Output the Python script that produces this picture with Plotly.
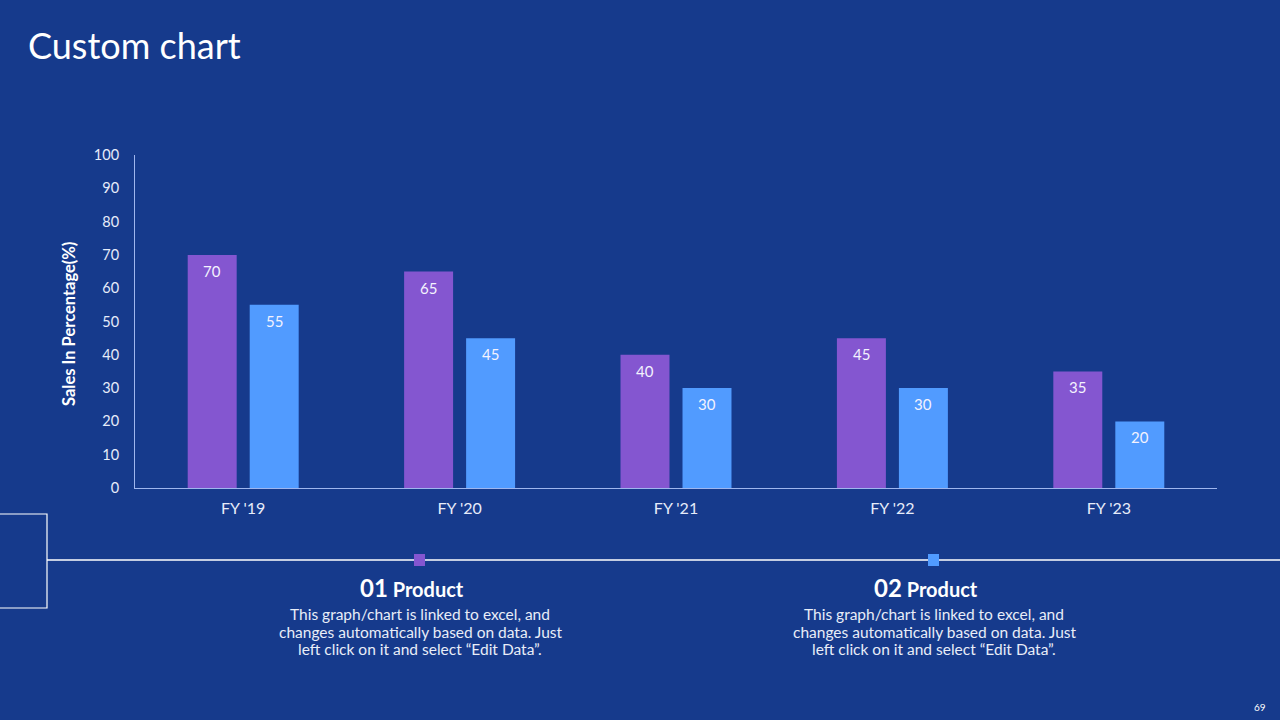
import plotly.graph_objects as go

categories = ["FY '19", "FY '20", "FY '21", "FY '22", "FY '23"]
product_01 = [70, 65, 40, 45, 35]
product_02 = [55, 45, 30, 30, 20]
y_ticks = [0, 10, 20, 30, 40, 50, 60, 70, 80, 90, 100]
desc_lines = [
    "This graph/chart is linked to excel, and",
    "changes automatically based on data. Just",
    "left click on it and select “Edit Data”.",
]

BG = "#163a8c"
PURPLE = "#8456d0"
BLUE = "#519bff"
AXIS = "#9fb6ee"
FONT = "Lato, 'Open Sans', sans-serif"

W, H = 1280, 720
L, R, T, B = 135, 1217, 155, 488


def fx(px):
    return (px - L) / (R - L)


def fy(py):
    return (B - py) / (B - T)


fig = go.Figure()
fig.add_trace(go.Bar(x=categories, y=product_01, name="01 Product", marker_color=PURPLE,
                     marker_line_width=0, text=product_01, textposition="none",
                     hoverinfo="x+y"))
fig.add_trace(go.Bar(x=categories, y=product_02, name="02 Product", marker_color=BLUE,
                     marker_line_width=0, text=product_02, textposition="none",
                     hoverinfo="x+y"))

shapes = [
    dict(type="line", xref="paper", yref="paper", x0=fx(47), x1=fx(1280), y0=fy(560), y1=fy(560),
         line=dict(color="white", width=1.5)),
    dict(type="rect", xref="paper", yref="paper", x0=fx(-5), x1=fx(47), y0=fy(608), y1=fy(514),
         line=dict(color="white", width=1.2)),
    dict(type="rect", xref="paper", yref="paper", x0=fx(414), x1=fx(425), y0=fy(566), y1=fy(554),
         fillcolor=PURPLE, line=dict(width=0)),
    dict(type="rect", xref="paper", yref="paper", x0=fx(928), x1=fx(939), y0=fy(566), y1=fy(554),
         fillcolor=BLUE, line=dict(width=0)),
]

annotations = [
    dict(text="Custom chart", xref="paper", yref="paper", x=fx(26), y=fy(45), xanchor="left",
         yanchor="middle", showarrow=False, font=dict(size=36, color="white", family=FONT)),
    dict(text="<b>Sales In Percentage(%)</b>", xref="paper", yref="paper", x=fx(69), y=fy(324),
         xanchor="center", yanchor="middle", textangle=-90, showarrow=False,
         font=dict(size=16.5, color="white", family=FONT)),
    dict(text="<b><span style='font-size:24px'>01</span> Product</b>", xref="paper", yref="paper",
         x=fx(412), y=fy(587), xanchor="center", yanchor="middle", showarrow=False,
         font=dict(size=20, color="white", family=FONT)),
    dict(text="<b><span style='font-size:24px'>02</span> Product</b>", xref="paper", yref="paper",
         x=fx(926), y=fy(587), xanchor="center", yanchor="middle", showarrow=False,
         font=dict(size=20, color="white", family=FONT)),
    dict(text="69", xref="paper", yref="paper", x=fx(1260), y=fy(707), xanchor="center",
         yanchor="middle", showarrow=False, font=dict(size=10, color="white", family=FONT)),
]
for cx in (420, 934):
    for line, ly in zip(desc_lines, (614, 632, 649)):
        annotations.append(dict(text=line, xref="paper", yref="paper", x=fx(cx), y=fy(ly),
                                xanchor="center", yanchor="middle", showarrow=False,
                                font=dict(size=15.5, color="#e8edf8", family=FONT)))

# value labels inside the top of each bar, placed via data coordinates
for vals, xshift in ((product_01, -31), (product_02, 31)):
    for cat, v in zip(categories, vals):
        annotations.append(dict(text=str(v), x=cat, y=v, xref="x", yref="y", xshift=xshift,
                                yshift=-16, xanchor="center", yanchor="middle", showarrow=False,
                                font=dict(size=15, color="#f3f2fe", family=FONT)))

fig.update_layout(
    width=W, height=H,
    margin=dict(l=L, r=W - R, t=T, b=H - B, pad=0),
    paper_bgcolor=BG, plot_bgcolor=BG,
    barmode="group", bargap=0.427, bargroupgap=0.21,
    showlegend=False,
    font=dict(family=FONT, color="#e6ecfa"),
    xaxis=dict(showgrid=False, showline=True, linecolor=AXIS, linewidth=1, ticks="",
               ticklabelstandoff=6, tickfont=dict(size=16, color="#e6ecfa"), zeroline=False),
    yaxis=dict(range=[0, 100], tickvals=y_ticks, showgrid=False, showline=True, linecolor=AXIS,
               linewidth=1, ticks="", ticklabelstandoff=12, zeroline=False,
               tickfont=dict(size=14.5, color="#e6ecfa")),
    shapes=shapes,
    annotations=annotations,
)

fig.write_html("out.html")
